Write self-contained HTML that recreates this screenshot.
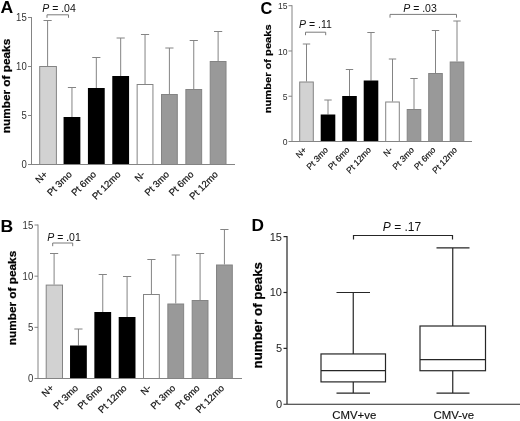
<!DOCTYPE html>
<html lang="en">
<head>
<meta charset="utf-8">
<title>Number of peaks</title>
<style>
html,body{margin:0;padding:0;background:#fff;}
body{width:520px;height:421px;overflow:hidden;}
svg{display:block;font-family:'Liberation Sans', Arial, sans-serif;}
</style>
</head>
<body>
<svg width="520" height="421" viewBox="0 0 520 421">
<rect width="520" height="421" fill="#fff"/>
<path d="M47.6 66V20.5M43.5 20.5H51.7" stroke="#848484" stroke-width="1" fill="none"/>
<rect x="39.7" y="66.5" width="16.7" height="98" fill="#d2d2d2" stroke="#848484" stroke-width="1"/>
<path d="M71.96 117V87.5M67.86 87.5H76.06" stroke="#848484" stroke-width="1" fill="none"/>
<rect x="63.56" y="117" width="16.8" height="47.5" fill="#000"/>
<path d="M96.32 88V57.5M92.22 57.5H100.42" stroke="#848484" stroke-width="1" fill="none"/>
<rect x="87.92" y="88" width="16.8" height="76.5" fill="#000"/>
<path d="M120.68 76V38M116.58 38H124.78" stroke="#848484" stroke-width="1" fill="none"/>
<rect x="112.28" y="76" width="16.8" height="88.5" fill="#000"/>
<path d="M145.04 84V34.5M140.94 34.5H149.14" stroke="#848484" stroke-width="1" fill="none"/>
<rect x="137.14" y="84.5" width="15.8" height="80" fill="#fff" stroke="#848484" stroke-width="1"/>
<path d="M169.4 94V48M165.3 48H173.5" stroke="#848484" stroke-width="1" fill="none"/>
<rect x="161.5" y="94.5" width="15.8" height="70" fill="#999999" stroke="#848484" stroke-width="1"/>
<path d="M193.76 89V40.5M189.66 40.5H197.86" stroke="#848484" stroke-width="1" fill="none"/>
<rect x="185.86" y="89.5" width="15.8" height="75" fill="#999999" stroke="#848484" stroke-width="1"/>
<path d="M218.12 61V31.5M214.02 31.5H222.22" stroke="#848484" stroke-width="1" fill="none"/>
<rect x="210.22" y="61.5" width="15.8" height="103" fill="#999999" stroke="#848484" stroke-width="1"/>
<path d="M31.5 17V165M28 164.5H235" stroke="#848484" stroke-width="1" fill="none"/>
<text transform="translate(26.7 168.2) scale(0.91 1)" font-size="10.5" text-anchor="end" fill="#303030">0</text>
<path d="M28 115.5H31.5" stroke="#848484" stroke-width="1"/>
<text transform="translate(26.7 119.2) scale(0.91 1)" font-size="10.5" text-anchor="end" fill="#303030">5</text>
<path d="M28 66.5H31.5" stroke="#848484" stroke-width="1"/>
<text transform="translate(26.7 70.2) scale(0.91 1)" font-size="10.5" text-anchor="end" fill="#303030">10</text>
<path d="M28 17.5H31.5" stroke="#848484" stroke-width="1"/>
<text transform="translate(26.7 21.2) scale(0.91 1)" font-size="10.5" text-anchor="end" fill="#303030">15</text>
<text transform="translate(48.1 175) scale(1 1) rotate(-45)" font-size="9.6" text-anchor="end" fill="#111" stroke="#111" stroke-width="0.2">N+</text>
<text transform="translate(72.46 175) scale(1 1) rotate(-45)" font-size="9.6" text-anchor="end" fill="#111" stroke="#111" stroke-width="0.2">Pt 3mo</text>
<text transform="translate(96.82 175) scale(1 1) rotate(-45)" font-size="9.6" text-anchor="end" fill="#111" stroke="#111" stroke-width="0.2">Pt 6mo</text>
<text transform="translate(121.18 175) scale(1 1) rotate(-45)" font-size="9.6" text-anchor="end" fill="#111" stroke="#111" stroke-width="0.2">Pt 12mo</text>
<text transform="translate(145.54 175) scale(1 1) rotate(-45)" font-size="9.6" text-anchor="end" fill="#111" stroke="#111" stroke-width="0.2">N-</text>
<text transform="translate(169.9 175) scale(1 1) rotate(-45)" font-size="9.6" text-anchor="end" fill="#111" stroke="#111" stroke-width="0.2">Pt 3mo</text>
<text transform="translate(194.26 175) scale(1 1) rotate(-45)" font-size="9.6" text-anchor="end" fill="#111" stroke="#111" stroke-width="0.2">Pt 6mo</text>
<text transform="translate(218.62 175) scale(1 1) rotate(-45)" font-size="9.6" text-anchor="end" fill="#111" stroke="#111" stroke-width="0.2">Pt 12mo</text>
<text transform="translate(9.5 86) rotate(-90) scale(1 1)" font-size="11.8" font-weight="bold" text-anchor="middle" fill="#000" stroke="#000" stroke-width="0.25">number of peaks</text>
<text transform="translate(0.6 13.3) scale(1.1 1)" font-size="16" font-weight="bold" fill="#000">A</text>
<path d="M47 17.8V14.8H68.5V17.8" stroke="#7a7a7a" stroke-width="1" fill="none"/>
<text x="59" y="11.5" font-size="10.5" text-anchor="middle" fill="#111"><tspan font-style="italic">P</tspan> = .04</text>
<path d="M54.1 284.6V253.5M50 253.5H58.2" stroke="#848484" stroke-width="1" fill="none"/>
<rect x="46.2" y="285.1" width="16.3" height="93.4" fill="#d2d2d2" stroke="#848484" stroke-width="1"/>
<path d="M78.43 345.5V329M74.33 329H82.53" stroke="#848484" stroke-width="1" fill="none"/>
<rect x="70.03" y="345.5" width="16.8" height="33" fill="#000"/>
<path d="M102.76 312V274.5M98.66 274.5H106.86" stroke="#848484" stroke-width="1" fill="none"/>
<rect x="94.36" y="312" width="16.8" height="66.5" fill="#000"/>
<path d="M127.09 317V276.5M122.99 276.5H131.19" stroke="#848484" stroke-width="1" fill="none"/>
<rect x="118.69" y="317" width="16.8" height="61.5" fill="#000"/>
<path d="M151.42 294V259.5M147.32 259.5H155.52" stroke="#848484" stroke-width="1" fill="none"/>
<rect x="143.52" y="294.5" width="15.8" height="84" fill="#fff" stroke="#848484" stroke-width="1"/>
<path d="M175.75 303.5V255M171.65 255H179.85" stroke="#848484" stroke-width="1" fill="none"/>
<rect x="167.85" y="304" width="15.8" height="74.5" fill="#999999" stroke="#848484" stroke-width="1"/>
<path d="M200.08 300V253.5M195.98 253.5H204.18" stroke="#848484" stroke-width="1" fill="none"/>
<rect x="192.18" y="300.5" width="15.8" height="78" fill="#999999" stroke="#848484" stroke-width="1"/>
<path d="M224.41 264.5V229.5M220.31 229.5H228.51" stroke="#848484" stroke-width="1" fill="none"/>
<rect x="216.51" y="265" width="15.8" height="113.5" fill="#999999" stroke="#848484" stroke-width="1"/>
<path d="M38 224.5V379M34.5 378.5H242" stroke="#848484" stroke-width="1" fill="none"/>
<text transform="translate(33.2 382.2) scale(0.91 1)" font-size="10.5" text-anchor="end" fill="#303030">0</text>
<path d="M34.5 327.33H38" stroke="#848484" stroke-width="1"/>
<text transform="translate(33.2 331.03) scale(0.91 1)" font-size="10.5" text-anchor="end" fill="#303030">5</text>
<path d="M34.5 276.17H38" stroke="#848484" stroke-width="1"/>
<text transform="translate(33.2 279.87) scale(0.91 1)" font-size="10.5" text-anchor="end" fill="#303030">10</text>
<path d="M34.5 225H38" stroke="#848484" stroke-width="1"/>
<text transform="translate(33.2 228.7) scale(0.91 1)" font-size="10.5" text-anchor="end" fill="#303030">15</text>
<text transform="translate(54.4 388.6) scale(1 1) rotate(-45)" font-size="9.6" text-anchor="end" fill="#111" stroke="#111" stroke-width="0.2">N+</text>
<text transform="translate(78.73 388.6) scale(1 1) rotate(-45)" font-size="9.6" text-anchor="end" fill="#111" stroke="#111" stroke-width="0.2">Pt 3mo</text>
<text transform="translate(103.06 388.6) scale(1 1) rotate(-45)" font-size="9.6" text-anchor="end" fill="#111" stroke="#111" stroke-width="0.2">Pt 6mo</text>
<text transform="translate(127.39 388.6) scale(1 1) rotate(-45)" font-size="9.6" text-anchor="end" fill="#111" stroke="#111" stroke-width="0.2">Pt 12mo</text>
<text transform="translate(151.72 388.6) scale(1 1) rotate(-45)" font-size="9.6" text-anchor="end" fill="#111" stroke="#111" stroke-width="0.2">N-</text>
<text transform="translate(176.05 388.6) scale(1 1) rotate(-45)" font-size="9.6" text-anchor="end" fill="#111" stroke="#111" stroke-width="0.2">Pt 3mo</text>
<text transform="translate(200.38 388.6) scale(1 1) rotate(-45)" font-size="9.6" text-anchor="end" fill="#111" stroke="#111" stroke-width="0.2">Pt 6mo</text>
<text transform="translate(224.71 388.6) scale(1 1) rotate(-45)" font-size="9.6" text-anchor="end" fill="#111" stroke="#111" stroke-width="0.2">Pt 12mo</text>
<text transform="translate(16 298) rotate(-90) scale(1 1)" font-size="11.8" font-weight="bold" text-anchor="middle" fill="#000" stroke="#000" stroke-width="0.25">number of peaks</text>
<text transform="translate(0.6 232.2) scale(1.1 1)" font-size="16" font-weight="bold" fill="#000">B</text>
<path d="M52.7 246.2V243H72.7V246.2" stroke="#7a7a7a" stroke-width="1" fill="none"/>
<text x="64" y="240.5" font-size="10.5" text-anchor="middle" fill="#111"><tspan font-style="italic">P</tspan> = .01</text>
<path d="M306.5 81.5V44M302.8 44H310.2" stroke="#848484" stroke-width="1" fill="none"/>
<rect x="299.7" y="82" width="13.6" height="59.5" fill="#d2d2d2" stroke="#848484" stroke-width="1"/>
<path d="M328 114.5V100M324.3 100H331.7" stroke="#848484" stroke-width="1" fill="none"/>
<rect x="320.7" y="114.5" width="14.6" height="27" fill="#000"/>
<path d="M349.5 96V69.5M345.8 69.5H353.2" stroke="#848484" stroke-width="1" fill="none"/>
<rect x="342.2" y="96" width="14.6" height="45.5" fill="#000"/>
<path d="M371 80.5V32.5M367.3 32.5H374.7" stroke="#848484" stroke-width="1" fill="none"/>
<rect x="363.7" y="80.5" width="14.6" height="61" fill="#000"/>
<path d="M392.5 101.5V59M388.8 59H396.2" stroke="#848484" stroke-width="1" fill="none"/>
<rect x="385.7" y="102" width="13.6" height="39.5" fill="#fff" stroke="#848484" stroke-width="1"/>
<path d="M414 109V78.5M410.3 78.5H417.7" stroke="#848484" stroke-width="1" fill="none"/>
<rect x="407.2" y="109.5" width="13.6" height="32" fill="#999999" stroke="#848484" stroke-width="1"/>
<path d="M435.5 73V30.5M431.8 30.5H439.2" stroke="#848484" stroke-width="1" fill="none"/>
<rect x="428.7" y="73.5" width="13.6" height="68" fill="#999999" stroke="#848484" stroke-width="1"/>
<path d="M457 61.5V21M453.3 21H460.7" stroke="#848484" stroke-width="1" fill="none"/>
<rect x="450.2" y="62" width="13.6" height="79.5" fill="#999999" stroke="#848484" stroke-width="1"/>
<path d="M292 5.2V142M288.5 141.5H472" stroke="#848484" stroke-width="1" fill="none"/>
<text transform="translate(287.5 145.1) scale(0.88 1)" font-size="9.8" text-anchor="end" fill="#303030">0</text>
<path d="M288.5 96.23H292" stroke="#848484" stroke-width="1"/>
<text transform="translate(287.5 99.83) scale(0.88 1)" font-size="9.8" text-anchor="end" fill="#303030">5</text>
<path d="M288.5 50.97H292" stroke="#848484" stroke-width="1"/>
<text transform="translate(287.5 54.57) scale(0.88 1)" font-size="9.8" text-anchor="end" fill="#303030">10</text>
<path d="M288.5 5.7H292" stroke="#848484" stroke-width="1"/>
<text transform="translate(287.5 9.3) scale(0.88 1)" font-size="9.8" text-anchor="end" fill="#303030">15</text>
<text transform="translate(307 150.5) scale(0.92 1) rotate(-45)" font-size="9" text-anchor="end" fill="#111" stroke="#111" stroke-width="0.2">N+</text>
<text transform="translate(328.5 150.5) scale(0.92 1) rotate(-45)" font-size="9" text-anchor="end" fill="#111" stroke="#111" stroke-width="0.2">Pt 3mo</text>
<text transform="translate(350 150.5) scale(0.92 1) rotate(-45)" font-size="9" text-anchor="end" fill="#111" stroke="#111" stroke-width="0.2">Pt 6mo</text>
<text transform="translate(371.5 150.5) scale(0.92 1) rotate(-45)" font-size="9" text-anchor="end" fill="#111" stroke="#111" stroke-width="0.2">Pt 12mo</text>
<text transform="translate(393 150.5) scale(0.92 1) rotate(-45)" font-size="9" text-anchor="end" fill="#111" stroke="#111" stroke-width="0.2">N-</text>
<text transform="translate(414.5 150.5) scale(0.92 1) rotate(-45)" font-size="9" text-anchor="end" fill="#111" stroke="#111" stroke-width="0.2">Pt 3mo</text>
<text transform="translate(436 150.5) scale(0.92 1) rotate(-45)" font-size="9" text-anchor="end" fill="#111" stroke="#111" stroke-width="0.2">Pt 6mo</text>
<text transform="translate(457.5 150.5) scale(0.92 1) rotate(-45)" font-size="9" text-anchor="end" fill="#111" stroke="#111" stroke-width="0.2">Pt 12mo</text>
<text transform="translate(271.2 68.8) rotate(-90) scale(1 0.86)" font-size="11.1" font-weight="bold" text-anchor="middle" fill="#000" stroke="#000" stroke-width="0.25">number of peaks</text>
<text transform="translate(260.6 14.4) scale(1.02 1)" font-size="16" font-weight="bold" fill="#000">C</text>
<path d="M305.5 35.2V32.2H325.7V35.2" stroke="#7a7a7a" stroke-width="1" fill="none"/>
<text x="315.5" y="27.8" font-size="10.5" text-anchor="middle" fill="#111"><tspan font-style="italic">P</tspan> = .11</text>
<path d="M390 17.7V14.4H456.5V17.7" stroke="#7a7a7a" stroke-width="1" fill="none"/>
<text x="420" y="11.6" font-size="10.5" text-anchor="middle" fill="#111"><tspan font-style="italic">P</tspan> = .03</text>
<path d="M287 236.1V404.75M283.5 404.25H520" stroke="#262626" stroke-width="1.2" fill="none"/>
<text x="282" y="408.15" font-size="11" text-anchor="end" fill="#1c1c1c">0</text>
<path d="M283.5 348.37H287" stroke="#262626" stroke-width="1.2"/>
<text x="282" y="352.27" font-size="11" text-anchor="end" fill="#1c1c1c">5</text>
<path d="M283.5 292.48H287" stroke="#262626" stroke-width="1.2"/>
<text x="282" y="296.38" font-size="11" text-anchor="end" fill="#1c1c1c">10</text>
<path d="M283.5 236.6H287" stroke="#262626" stroke-width="1.2"/>
<text x="282" y="240.5" font-size="11" text-anchor="end" fill="#1c1c1c">15</text>
<path d="M353.25 292.48V353.95M353.25 381.9V393.07M336.5 292.48H370M336.5 393.07H370M321 370.72H385.5" stroke="#262626" stroke-width="1.2" fill="none"/>
<rect x="321" y="353.95" width="64.5" height="27.94" fill="none" stroke="#262626" stroke-width="1.2"/>
<text x="354.25" y="418.9" font-size="11.4" text-anchor="middle" fill="#111" stroke="#111" stroke-width="0.15">CMV+ve</text>
<path d="M452.75 247.78V326.01M452.75 370.72V393.07M436.5 247.78H469.5M436.5 393.07H469.5M420 359.54H485.5" stroke="#262626" stroke-width="1.2" fill="none"/>
<rect x="420" y="326.01" width="65.5" height="44.71" fill="none" stroke="#262626" stroke-width="1.2"/>
<text x="453.75" y="418.9" font-size="11.4" text-anchor="middle" fill="#111" stroke="#111" stroke-width="0.15">CMV-ve</text>
<path d="M353.5 239.5V235.5H452.5V239.5" stroke="#262626" stroke-width="1.2" fill="none"/>
<text x="402" y="231" font-size="12" text-anchor="middle" fill="#111"><tspan font-style="italic">P</tspan> = .17</text>
<text transform="translate(261.8 315.2) rotate(-90)" font-size="13.3" font-weight="bold" text-anchor="middle" fill="#000" stroke="#000" stroke-width="0.25">number of peaks</text>
<text transform="translate(251.4 231.2) scale(1.08 1)" font-size="16" font-weight="bold" fill="#000">D</text>
</svg>
</body>
</html>
